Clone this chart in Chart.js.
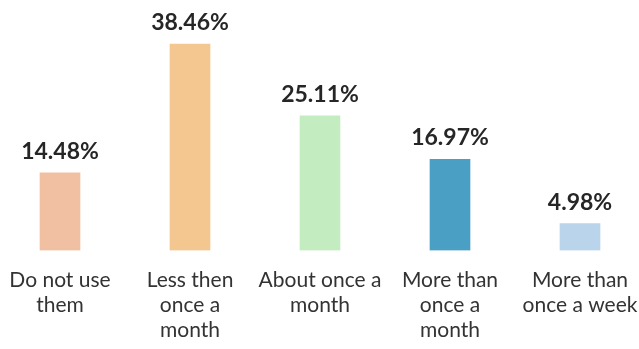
<!DOCTYPE html>
<html>
<head>
<meta charset="utf-8">
<script src="https://cdn.jsdelivr.net/npm/chart.js@4/dist/chart.umd.min.js"></script>
<style>
  html, body { margin: 0; padding: 0; background: #fff; overflow: hidden; }
  #wrap { position: absolute; left: -5px; top: 0; width: 650px; height: 349px; }
</style>
</head>
<body>
<div id="wrap"><canvas id="usageChart"></canvas></div>
<script>
// --- DATA ---
const categories = [
    ['Do not use', 'them'],
    ['Less then', 'once a', 'month'],
    ['About once a', 'month'],
    ['More than', 'once a', 'month'],
    ['More than', 'once a week']
];
const shares = [14.48, 38.46, 25.11, 16.97, 4.98];
const barColors = ['#f1bfa2', '#f4c690', '#c4ecc1', '#4a9fc4', '#bad4eb'];

// Percent labels above each bar
const valueLabels = {
    id: 'valueLabels',
    afterDatasetsDraw(chart) {
        const ctx = chart.ctx;
        const meta = chart.getDatasetMeta(0);
        ctx.save();
        ctx.font = 'bold 23px Lato, "Open Sans", sans-serif';
        ctx.fillStyle = '#262626';
        ctx.textAlign = 'center';
        ctx.textBaseline = 'alphabetic';
        meta.data.forEach((bar, i) => {
            ctx.fillText(shares[i].toFixed(2) + '%', bar.x, bar.y - 14);
        });
        ctx.restore();
    }
};

new Chart(document.getElementById('usageChart'), {
    type: 'bar',
    data: {
        labels: categories,
        datasets: [{
            data: shares,
            backgroundColor: barColors,
            borderWidth: 0,
            barThickness: 40
        }]
    },
    options: {
        responsive: true,
        maintainAspectRatio: false,
        animation: false,
        layout: { padding: { top: 0, bottom: -11 } },
        plugins: {
            legend: { display: false },
            tooltip: { enabled: false }
        },
        scales: {
            y: {
                display: false,
                min: 0,
                max: 46.7
            },
            x: {
                grid: { display: false, drawTicks: false },
                border: { display: false },
                // keep the full width for the bars; edge labels may run to the border
                afterFit(scale) {
                    scale.paddingLeft = 0;
                    scale.paddingRight = 0;
                },
                ticks: {
                    color: '#333',
                    padding: 17,
                    maxRotation: 0,
                    autoSkip: false,
                    font: { family: 'Lato, "Open Sans", sans-serif', size: 21, lineHeight: 1.2 }
                }
            }
        }
    },
    plugins: [valueLabels]
});
</script>
</body>
</html>
